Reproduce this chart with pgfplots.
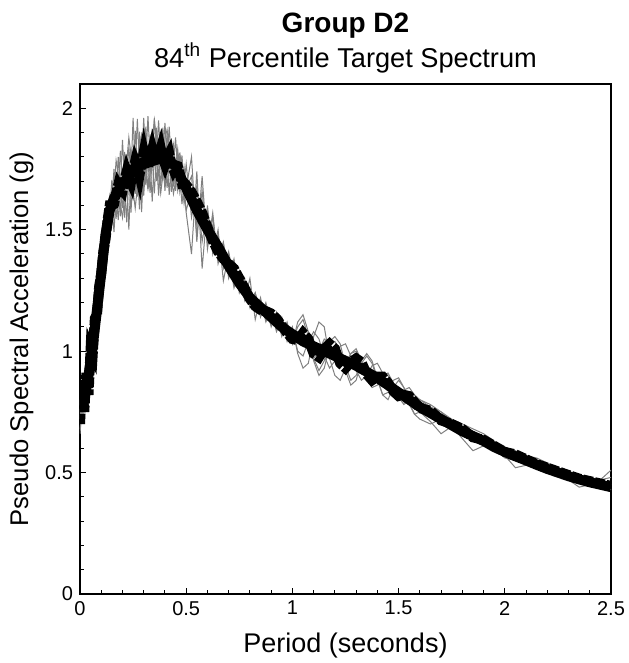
\documentclass[border=0pt]{standalone}
\usepackage{pgfplots}
\usepackage{pgfplotstable}
\pgfplotsset{compat=1.18}
\usepackage{fontspec}
\setmainfont{Liberation Sans}

\pgfplotstableread{
x t m g1 g2 g3 g4 g5
0.00 0.76 0.70 0.72 0.68 0.80 0.74 0.66
0.01 0.78 0.88 0.80 0.74 0.70 0.84 0.77
0.02 0.80 0.75 0.70 0.82 0.88 0.76 0.79
0.03 0.85 0.91 0.86 0.80 0.83 0.90 0.84
0.04 0.90 0.82 0.84 0.93 0.96 0.87 0.89
0.05 0.96 1.01 0.99 0.94 0.92 1.00 0.97
0.06 1.02 0.99 1.05 1.08 1.04 0.99 1.03
0.07 1.095 1.135 1.12 1.06 1.13 1.10 1.08
0.08 1.17 1.15 1.20 1.22 1.15 1.19 1.16
0.09 1.245 1.265 1.28 1.22 1.30 1.25 1.27
0.10 1.32 1.32 1.36 1.38 1.30 1.34 1.31
0.11 1.40 1.41 1.45 1.40 1.35 1.40 1.45
0.12 1.48 1.46 1.48 1.52 1.48 1.42 1.505
0.13 1.53 1.54 1.48 1.53 1.58 1.53 1.505
0.14 1.58 1.60 1.58 1.54 1.58 1.64 1.53
0.15 1.605 1.60 1.705 1.605 1.525 1.605 1.58
0.16 1.63 1.605 1.63 1.75 1.63 1.49 1.655
0.17 1.645 1.65 1.545 1.645 1.725 1.645 1.785
0.18 1.66 1.685 1.66 1.54 1.66 1.80 1.73
0.19 1.675 1.67 1.825 1.675 1.555 1.675 1.605
0.20 1.69 1.66 1.69 1.87 1.69 1.59 1.55
0.21 1.70 1.705 1.55 1.70 1.82 1.70 1.63
0.22 1.71 1.74 1.71 1.53 1.71 1.81 1.78
0.23 1.72 1.715 1.84 1.72 1.50 1.72 1.88
0.24 1.73 1.695 1.73 1.83 1.73 1.57 1.81
0.25 1.74 1.745 1.62 1.74 1.96 1.74 1.66
0.26 1.748 1.783 1.748 1.648 1.748 1.908 1.588
0.27 1.756 1.761 1.956 1.756 1.636 1.756 1.676
0.28 1.764 1.724 1.764 1.904 1.764 1.584 1.844
0.29 1.772 1.777 1.572 1.772 1.892 1.772 1.892
0.30 1.78 1.82 1.78 1.64 1.78 1.96 1.84
0.31 1.784 1.779 1.924 1.784 1.684 1.784 1.724
0.32 1.788 1.753 1.788 1.968 1.788 1.668 1.668
0.33 1.792 1.797 1.652 1.792 1.892 1.792 1.732
0.34 1.796 1.831 1.796 1.616 1.796 1.916 1.856
0.35 1.80 1.795 1.96 1.80 1.65 1.80 1.95
0.36 1.80 1.765 1.80 1.92 1.80 1.70 1.875
0.37 1.80 1.805 1.64 1.80 1.95 1.80 1.725
0.38 1.80 1.835 1.80 1.68 1.80 1.90 1.65
0.39 1.80 1.795 1.92 1.80 1.70 1.80 1.725
0.40 1.80 1.77 1.80 1.94 1.80 1.66 1.875
0.41 1.792 1.797 1.672 1.792 1.892 1.792 1.912
0.42 1.784 1.814 1.784 1.644 1.784 1.924 1.844
0.43 1.776 1.771 1.876 1.776 1.656 1.776 1.716
0.44 1.768 1.748 1.768 1.848 1.768 1.678 1.648
0.45 1.76 1.765 1.66 1.76 1.88 1.76 1.70
0.46 1.742 1.762 1.742 1.662 1.742 1.832 1.802
0.47 1.724 1.729 1.804 1.724 1.654 1.724 1.814
0.48 1.706 1.691 1.706 1.806 1.706 1.606 1.751
0.49 1.688 1.693 1.608 1.688 1.758 1.688 1.643
0.50 1.67 1.685 1.67 1.57 1.67 1.77 1.58
0.525 1.625 1.655 1.80 1.40 1.72 1.55 1.66
0.55 1.58 1.615 1.45 1.74 1.48 1.68 1.52
0.575 1.54 1.57 1.72 1.34 1.66 1.45 1.62
0.60 1.50 1.51 1.42 1.60 1.44 1.58 1.46
0.625 1.465 1.455 1.57 1.40 1.55 1.42 1.52
0.65 1.43 1.41 1.36 1.50 1.38 1.48 1.40
0.675 1.39 1.38 1.44 1.29 1.45 1.34 1.43
0.70 1.35 1.36 1.30 1.40 1.32 1.41 1.33
0.725 1.315 1.34 1.38 1.26 1.35 1.29 1.34
0.75 1.28 1.30 1.24 1.33 1.26 1.32 1.25
0.775 1.25 1.26 1.30 1.21 1.29 1.23 1.28
0.80 1.22 1.215 1.18 1.30 1.20 1.26 1.19
0.825 1.20 1.185 1.24 1.13 1.24 1.17 1.23
0.85 1.18 1.17 1.14 1.22 1.16 1.21 1.15
0.875 1.16 1.165 1.20 1.12 1.19 1.13 1.18
0.90 1.14 1.155 1.11 1.17 1.10 1.17 1.12
0.925 1.12 1.135 1.15 1.08 1.16 1.09 1.14
0.95 1.10 1.105 1.06 1.13 1.07 1.14 1.08
0.975 1.085 1.075 1.12 1.04 1.11 1.06 1.10
1.00 1.07 1.05 1.03 1.10 1.04 1.09 1.05
1.025 1.055 1.045 1.12 0.99 1.10 1.00 1.08
1.05 1.04 1.075 1.15 0.93 1.13 0.98 1.06
1.075 1.03 1.05 1.08 0.95 1.06 1.04 1.00
1.10 1.02 0.99 0.97 1.06 0.96 1.08 0.97
1.125 1.01 0.975 0.92 1.12 0.90 1.05 1.00
1.15 1.00 1.01 0.96 1.10 0.93 0.98 1.05
1.175 0.99 1.03 1.04 0.97 1.02 0.93 1.03
1.20 0.98 1.01 1.06 0.90 1.04 0.96 0.97
1.225 0.97 0.95 1.03 0.88 1.00 1.02 0.94
1.25 0.96 0.93 0.94 0.93 0.92 1.03 0.95
1.275 0.95 0.955 0.88 0.99 0.86 0.98 0.99
1.30 0.94 0.97 0.90 1.01 0.88 0.92 1.00
1.325 0.927 0.955 0.95 0.96 0.96 0.88 0.96
1.35 0.915 0.905 0.98 0.89 0.99 0.90 0.91
1.375 0.902 0.88 0.95 0.85 0.96 0.94 0.88
1.40 0.89 0.895 0.88 0.86 0.89 0.95 0.87
1.425 0.875 0.895 0.82 0.90 0.82 0.91 0.89
1.45 0.86 0.87 0.83 0.91 0.80 0.86 0.90
1.475 0.845 0.835 0.88 0.87 0.85 0.82 0.86
1.50 0.83 0.815 0.89 0.81 0.88 0.81 0.82
1.525 0.815 0.82 0.85 0.78 0.85 0.84 0.79
1.55 0.80 0.815 0.78 0.80 0.79 0.85 0.78
1.575 0.785 0.79 0.74 0.82 0.74 0.82 0.80
1.60 0.77 0.765 0.75 0.80 0.72 0.77 0.80
1.65 0.745 0.755 0.71 0.77 0.70 0.76 0.78
1.70 0.72 0.715 0.66 0.75 0.72 0.74 0.75
1.75 0.695 0.70 0.69 0.72 0.70 0.70 0.71
1.80 0.67 0.68 0.64 0.70 0.66 0.69 0.68
1.85 0.65 0.645 0.59 0.68 0.63 0.67 0.66
1.90 0.63 0.635 0.61 0.66 0.62 0.65 0.63
1.95 0.605 0.61 0.60 0.63 0.60 0.62 0.61
2.00 0.585 0.585 0.57 0.60 0.56 0.60 0.59
2.05 0.567 0.575 0.52 0.59 0.55 0.58 0.57
2.10 0.55 0.555 0.53 0.57 0.54 0.57 0.55
2.15 0.532 0.535 0.52 0.56 0.52 0.55 0.53
2.20 0.515 0.52 0.51 0.54 0.50 0.53 0.52
2.25 0.50 0.505 0.49 0.52 0.49 0.51 0.50
2.30 0.485 0.49 0.47 0.50 0.47 0.50 0.49
2.35 0.472 0.475 0.44 0.49 0.46 0.48 0.48
2.40 0.46 0.465 0.45 0.48 0.45 0.47 0.47
2.45 0.45 0.455 0.44 0.47 0.44 0.46 0.47
2.50 0.44 0.445 0.43 0.48 0.43 0.45 0.51
}\spectra

\begin{document}
\begin{tikzpicture}
\useasboundingbox (-40pt,-34.5pt) rectangle (274pt,297pt);
\begin{axis}[
  at={(0,0)}, anchor=south west,
  scale only axis, width=265.5pt, height=255pt,
  xmin=0, xmax=2.5, ymin=0, ymax=2.1,
  xtick={0,0.5,1,1.5,2,2.5},
  ytick={0,0.5,1,1.5,2},
  minor x tick num=4, minor y tick num=4,
  tick align=inside, tick pos=left,
  major tick length=3pt, minor tick length=2pt,
  axis line style={line width=0.6pt},
  every tick/.style={black, line width=0.5pt},
  /pgf/number format/assume math mode=true,
  ticklabel style={font=\fontsize{10}{12}\selectfont},
  xlabel={Period (seconds)},
  ylabel={Pseudo Spectral Acceleration (g)},
  xlabel style={font=\fontsize{13.5}{15}\selectfont, yshift=-2pt},
  ylabel style={font=\fontsize{12.8}{15}\selectfont, yshift=-1pt},
]
\addplot[gray, line width=0.5pt] table[x=x, y=g1] {\spectra};
\addplot[gray, line width=0.5pt] table[x=x, y=g2] {\spectra};
\addplot[gray, line width=0.5pt] table[x=x, y=g3] {\spectra};
\addplot[gray, line width=0.5pt] table[x=x, y=g4] {\spectra};
\addplot[gray, line width=0.5pt] table[x=x, y=g5] {\spectra};
\addplot[black, line width=5pt, line join=round] table[x=x, y=t] {\spectra};
\addplot[black, line width=5pt, line cap=butt, dash pattern=on 5pt off 1pt] table[x=x, y=m] {\spectra};
\end{axis}
\node[anchor=base, font=\fontsize{14}{16}\selectfont\bfseries] at (132.75pt,280.5pt) {Group D2};
\node[anchor=base, font=\fontsize{13.6}{16}\selectfont] at (132.75pt,263.3pt) {84\textsuperscript{th} Percentile Target Spectrum};
\end{tikzpicture}
\end{document}
